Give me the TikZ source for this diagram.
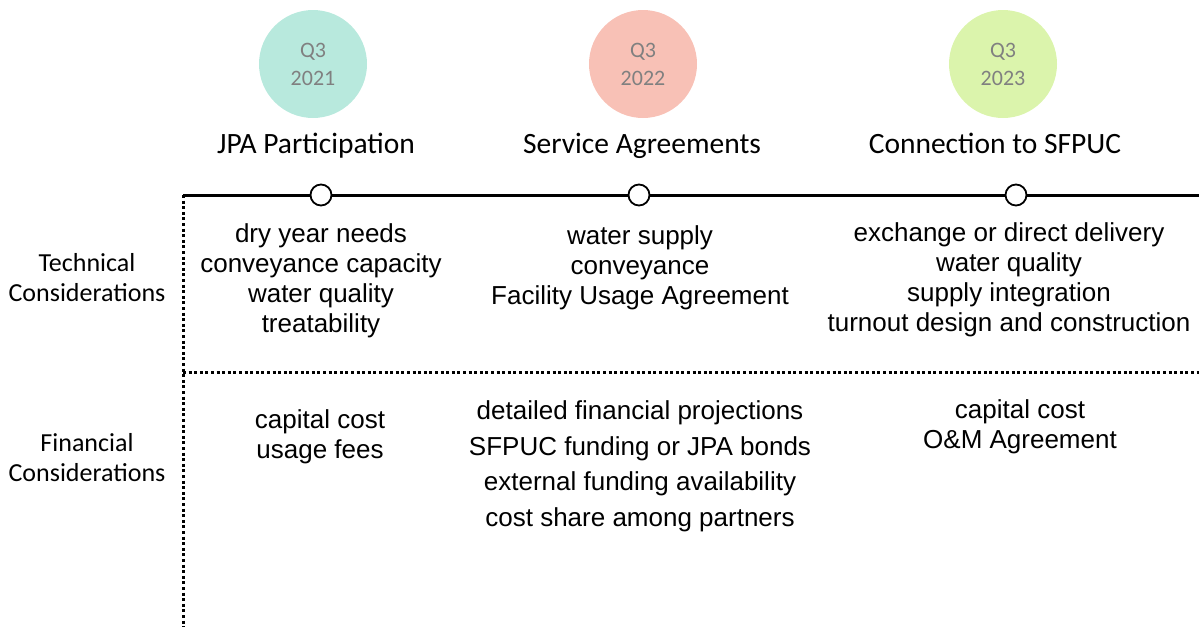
\documentclass[tikz,border=0pt]{standalone}
\usepackage{fontspec}
\setmainfont{Liberation Sans}
\newfontfamily\calib{Carlito}
\definecolor{cteal}{RGB}{184,233,221}
\definecolor{cpink}{RGB}{248,193,182}
\definecolor{cgreen}{RGB}{219,244,172}
\definecolor{qgray}{RGB}{128,128,128}
\begin{document}
\begin{tikzpicture}[x=1pt,y=-1pt,
  quarter/.style={circle,minimum size=108pt,inner sep=0pt,align=center,text=qgray,font=\calib\fontsize{22}{28}\selectfont},
  phase/.style={anchor=base,inner sep=0pt,font=\calib\fontsize{29.5}{34}\selectfont},
  rowlabel/.style={anchor=base,inner sep=0pt,align=center,font=\calib\fontsize{26}{30}\selectfont},
  items/.style={anchor=base,inner sep=0pt,align=center,font=\fontsize{26}{30}\selectfont},
  finitems/.style={anchor=base,inner sep=0pt,align=center,font=\fontsize{26}{35.5}\selectfont},
  milestone/.style={circle,draw=black,line width=1.8pt,fill=white,minimum size=21pt,inner sep=0pt},
  dotline/.style={line width=3pt,dash pattern=on 3pt off 2.6pt}]
\useasboundingbox (0,0) rectangle (1199,627);
% quarter circles
\node[quarter,fill=cteal] (q1) at (313,64) {Q3\\2021};
\node[quarter,fill=cpink] (q2) at (643,64) {Q3\\2022};
\node[quarter,fill=cgreen] (q3) at (1003,64) {Q3\\2023};
% phase titles
\node[phase] (p1) at (316,153) {JPA Participation};
\node[phase] (p2) at (642,153) {Service Agreements};
\node[phase] (p3) at (995,153) {Connection to SFPUC};
% grid lines
\coordinate (tl) at (183,195);
\coordinate (tr) at (1199,195);
\coordinate (bl) at (183,627);
\coordinate (ml) at (183,372);
\coordinate (mr) at (1199,372);
\draw[dotline] (tl) -- (bl);
\draw[dotline] (ml) -- (mr);
\draw[line width=3pt] (tl) -- (tr);
\node[milestone] (m1) at (321,195) {};
\node[milestone] (m2) at (639,195) {};
\node[milestone] (m3) at (1016,195) {};
% row labels (anchored at last baseline)
\node[rowlabel] (tech) at (87,301) {Technical\\Considerations};
\node[rowlabel] (fin) at (87,481) {Financial\\Considerations};
% technical items
\node[items] (t1) at (321,332) {dry year needs\\conveyance capacity\\water quality\\treatability};
\node[items] (t2) at (640,304) {water supply\\conveyance\\Facility Usage Agreement};
\node[items] (t3) at (1009,331) {exchange or direct delivery\\water quality\\supply integration\\turnout design and construction};
% financial items
\node[items] (f1) at (320,458) {capital cost\\usage fees};
\node[finitems] (f2) at (640,526) {detailed financial projections\\SFPUC funding or JPA bonds\\external funding availability\\cost share among partners};
\node[items] (f3) at (1020,448) {capital cost\\O\&M Agreement};
\end{tikzpicture}
\end{document}
